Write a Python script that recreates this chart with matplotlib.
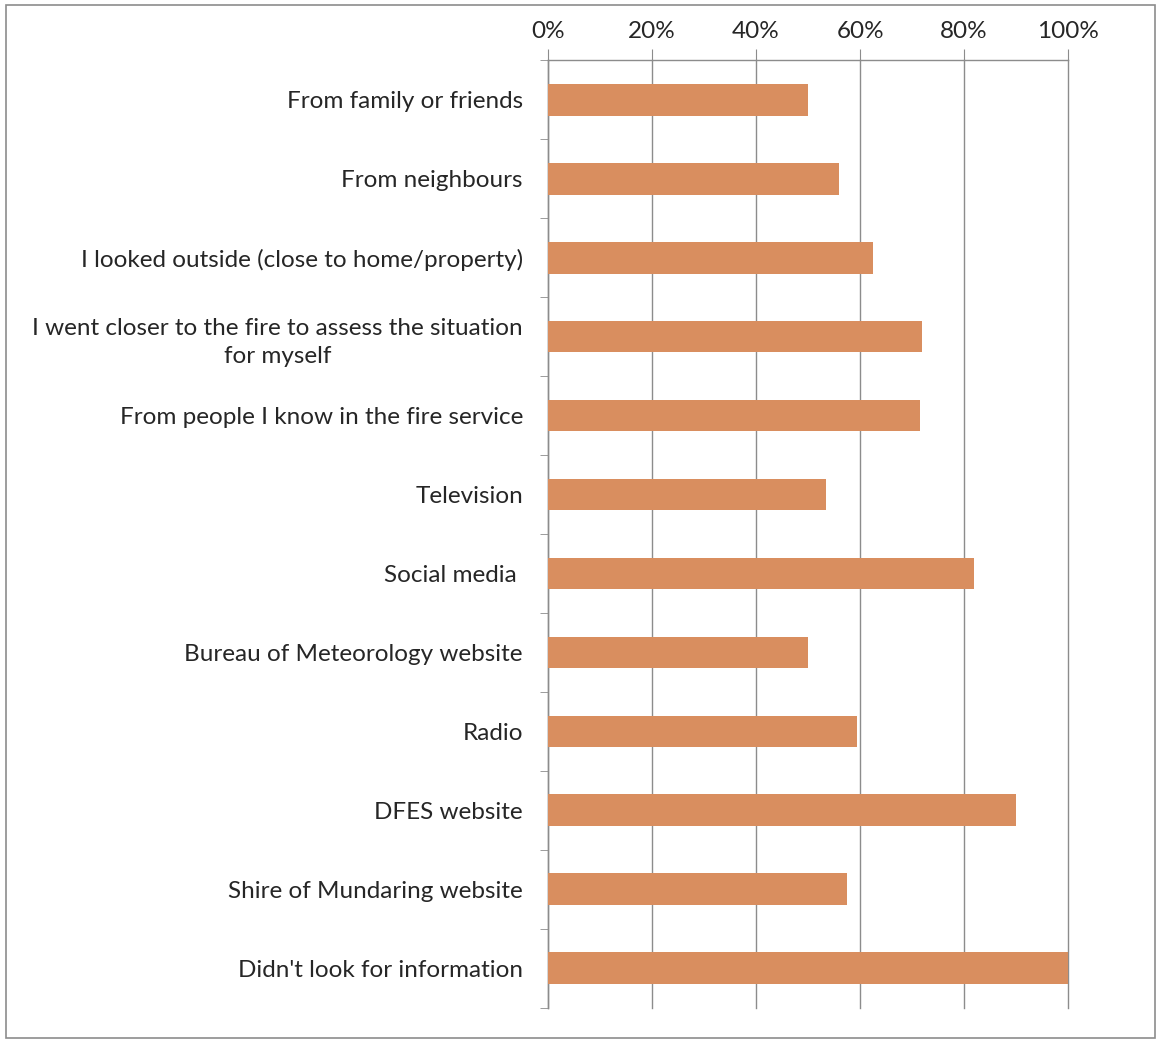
import numpy as np
import matplotlib
matplotlib.use("Agg")
import matplotlib.pyplot as plt
import matplotlib.ticker as ticker
from matplotlib.patches import Rectangle

# ── Data ──────────────────────────────────────────────────────────────────────
categories = [
    "From family or friends",
    "From neighbours",
    "I looked outside (close to home/property)",
    "I went closer to the fire to assess the situation\nfor myself",
    "From people I know in the fire service",
    "Television",
    "Social media ",
    "Bureau of Meteorology website",
    "Radio",
    "DFES website",
    "Shire of Mundaring website",
    "Didn't look for information",
]
values = [50, 56, 62.5, 72, 71.5, 53.5, 82, 50, 59.5, 90, 57.5, 100]
xticks = [0, 20, 40, 60, 80, 100]

# ── Style ─────────────────────────────────────────────────────────────────────
C_BAR  = "#D98E5F"
C_GRID = "#8C8C8C"
C_TEXT = "#262626"
FONT   = ["Lato", "DejaVu Sans"]

plt.rcParams["font.family"] = FONT

fig = plt.figure(figsize=(11.61, 10.42), dpi=100)
ax = fig.add_axes([0.472, 0.033, 0.448, 0.909])

y = np.arange(len(categories))
ax.barh(y, values, height=0.4, color=C_BAR, zorder=3)

ax.set_xlim(0, 100)
ax.set_ylim(len(categories) - 0.5, -0.5)

ax.xaxis.tick_top()
ax.set_xticks(xticks)
ax.xaxis.set_major_formatter(ticker.FuncFormatter(lambda v, _: f"{v:.0f}%"))
ax.tick_params(axis="x", length=8, color=C_GRID, labelsize=17.5,
               labelcolor=C_TEXT, pad=5, direction="out")
ax.grid(axis="x", color=C_GRID, linewidth=1.0, zorder=0)
for gl in ax.get_xgridlines():
    gl.set_clip_on(False)

ax.set_yticks(y)
ax.set_yticklabels(categories, multialignment="center", linespacing=1.45)
ax.tick_params(axis="y", which="major", length=0, labelsize=17.5,
               labelcolor=C_TEXT, pad=18)
ax.set_yticks(np.arange(len(categories) + 1) - 0.5, minor=True)
ax.tick_params(axis="y", which="minor", length=6, color=C_GRID,
               direction="out")

for side in ("right", "bottom"):
    ax.spines[side].set_visible(False)
for side in ("top", "left"):
    ax.spines[side].set_color(C_GRID)
    ax.spines[side].set_linewidth(1.0)

# outer chart border
fig.patches.append(Rectangle((0.005, 0.004), 0.99, 0.991,
                             transform=fig.transFigure, fill=False,
                             edgecolor="#8C8C8C", linewidth=1.2))

fig.savefig("out.png", dpi=100, facecolor="white")
